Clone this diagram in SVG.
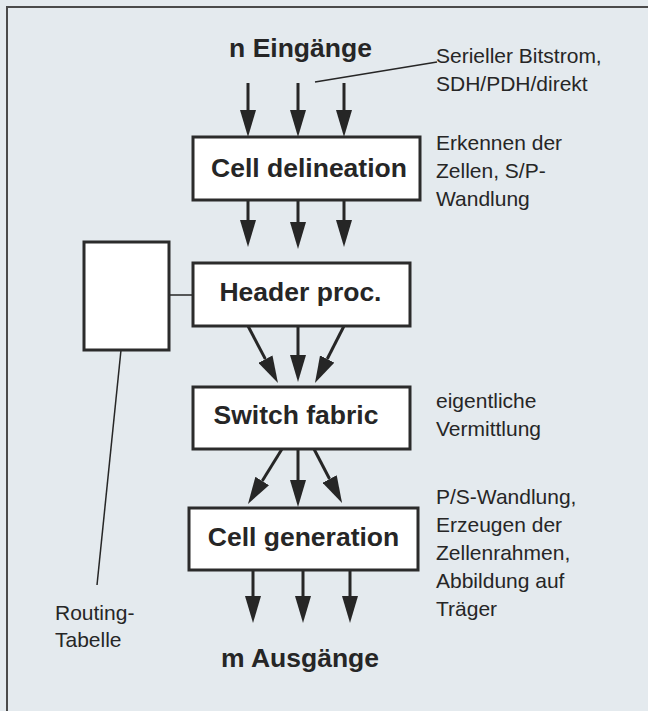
<svg xmlns="http://www.w3.org/2000/svg" width="648" height="711" viewBox="0 0 648 711">
<style>
.bg{fill:#e4eaee}
.frame{stroke:#4a4a4a;stroke-width:2;fill:none}
.box{fill:#ffffff;stroke:#2b2b2b;stroke-width:3}
.lbl{font-family:"Liberation Sans",Arial,sans-serif;font-weight:bold;font-size:26.5px;fill:#262626;text-anchor:middle}
.note{font-family:"Liberation Sans",Arial,sans-serif;font-size:21px;fill:#262626}
.arr{stroke:#262626;stroke-width:3;fill:none;marker-end:url(#ah)}
.thin{stroke:#262626;stroke-width:1.5;fill:none}
</style>
<defs>
<marker id="ah" viewBox="0 0 16 16" refX="2" refY="8" markerWidth="16" markerHeight="16" markerUnits="userSpaceOnUse" orient="auto">
<path d="M0,0 L16,8 L0,16 z" fill="#262626" transform="translate(0,0)"/>
</marker>
<marker id="head" viewBox="0 0 27 16" refX="0" refY="8" markerWidth="27" markerHeight="16" markerUnits="userSpaceOnUse" orient="auto">
<path d="M0,0 L27,8 L0,16 z" fill="#262626"/>
</marker>
</defs>
<rect class="bg" x="0" y="0" width="648" height="711"/>
<path class="frame" d="M7,711 L7,7 L648,7"/>

<g id="connectors">
<g style="stroke:#262626;stroke-width:3;fill:none;marker-end:url(#head)">
<!-- inputs -->
<line x1="248" y1="83" x2="248" y2="110"/>
<line x1="298" y1="83" x2="298" y2="110"/>
<line x1="344" y1="83" x2="344" y2="110"/>
<!-- cell delineation to header -->
<line x1="248" y1="200" x2="248" y2="220"/>
<line x1="298" y1="200" x2="298" y2="222"/>
<line x1="344" y1="200" x2="344" y2="220"/>
<!-- header to switch -->
<line x1="248" y1="326" x2="265.4" y2="359.1"/>
<line x1="298" y1="326" x2="298" y2="355"/>
<line x1="344" y1="326" x2="327.2" y2="359"/>
<!-- switch to cell generation -->
<line x1="282" y1="449" x2="262.2" y2="481"/>
<line x1="298" y1="449" x2="298" y2="480"/>
<line x1="314" y1="449" x2="329.6" y2="479"/>
<!-- outputs -->
<line x1="253" y1="570" x2="253" y2="596"/>
<line x1="303" y1="570" x2="303" y2="596"/>
<line x1="350" y1="570" x2="350" y2="596"/>
</g>
<line class="thin" x1="315" y1="82" x2="437" y2="62"/>
<line class="thin" x1="169" y1="295" x2="193" y2="295"/>
<line class="thin" x1="121" y1="350" x2="97" y2="585"/>
</g>

<text class="lbl" x="300.5" y="57">n Eingänge</text>
<text class="lbl" x="300" y="667">m Ausgänge</text>

<g id="cell-delineation">
<rect class="box" x="193" y="137" width="227" height="63"/>
<text class="lbl" x="309" y="177">Cell delineation</text>
</g>
<g id="header-proc">
<rect class="box" x="193" y="263" width="217" height="63"/>
<text class="lbl" x="300.5" y="301">Header proc.</text>
</g>
<g id="switch-fabric">
<rect class="box" x="193" y="387" width="217" height="62"/>
<text class="lbl" x="296" y="424">Switch fabric</text>
</g>
<g id="cell-generation">
<rect class="box" x="189" y="508" width="229" height="62"/>
<text class="lbl" x="303.5" y="546">Cell generation</text>
</g>
<g id="routing-table">
<rect class="box" x="84" y="242" width="85" height="108"/>
</g>

<g id="notes">
<text class="note" x="436" y="63">Serieller Bitstrom,</text>
<text class="note" x="436" y="91">SDH/PDH/direkt</text>
<text class="note" x="436" y="150">Erkennen der</text>
<text class="note" x="436" y="178">Zellen, S/P-</text>
<text class="note" x="436" y="206">Wandlung</text>
<text class="note" x="436" y="408">eigentliche</text>
<text class="note" x="436" y="436">Vermittlung</text>
<text class="note" x="436" y="504">P/S-Wandlung,</text>
<text class="note" x="436" y="532">Erzeugen der</text>
<text class="note" x="436" y="560">Zellenrahmen,</text>
<text class="note" x="436" y="588">Abbildung auf</text>
<text class="note" x="436" y="616">Träger</text>
<text class="note" x="55" y="620">Routing-</text>
<text class="note" x="55" y="647">Tabelle</text>
</g>
</svg>
